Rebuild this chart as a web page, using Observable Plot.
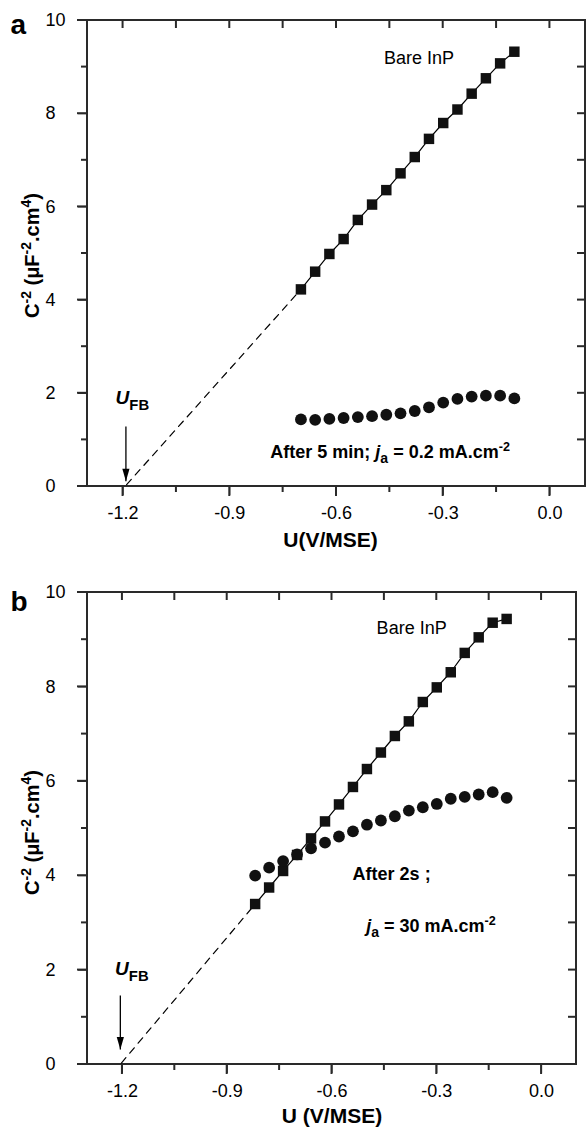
<!DOCTYPE html>
<html>
<head>
<meta charset="utf-8">
<script src="https://cdn.jsdelivr.net/npm/d3@7"></script>
<script src="https://cdn.jsdelivr.net/npm/@observablehq/plot@0.6"></script>
<style>
  html, body { margin: 0; padding: 0; background: #fff; }
  #chart svg { display: block; }
</style>
</head>
<body>
<div id="chart"></div>
<script>
// ---------- data ----------
const uA = [-0.70, -0.66, -0.62, -0.58, -0.54, -0.50, -0.46, -0.42, -0.38, -0.34, -0.30, -0.26, -0.22, -0.18, -0.14, -0.10];
const bareA = [4.23, 4.61, 4.99, 5.31, 5.72, 6.05, 6.36, 6.72, 7.07, 7.46, 7.80, 8.09, 8.43, 8.76, 9.08, 9.33];
const afterA = [1.44, 1.43, 1.45, 1.47, 1.49, 1.51, 1.54, 1.57, 1.62, 1.70, 1.80, 1.88, 1.93, 1.95, 1.95, 1.89];
const fitAX = [-1.19, -0.70];
const fitAY = [0.04, 4.23];

const uB = [-0.82, -0.78, -0.74, -0.70, -0.66, -0.62, -0.58, -0.54, -0.50, -0.46, -0.42, -0.38, -0.34, -0.30, -0.26, -0.22, -0.18, -0.14, -0.10];
const bareB = [3.40, 3.75, 4.10, 4.44, 4.79, 5.15, 5.51, 5.88, 6.26, 6.61, 6.96, 7.27, 7.68, 7.99, 8.31, 8.72, 9.05, 9.36, 9.44];
const afterB = [4.00, 4.17, 4.31, 4.45, 4.58, 4.70, 4.83, 4.94, 5.08, 5.17, 5.26, 5.38, 5.45, 5.52, 5.63, 5.67, 5.72, 5.77, 5.65];
const fitBX = [-1.203, -0.82];
const fitBY = [0.03, 3.40];

const xDomain = [-1.3, 0.1];
const yDomain = [0, 10];
const xMajor = [-1.2, -0.9, -0.6, -0.3, 0.0];
const xMinor = [-1.05, -0.75, -0.45, -0.15];
const yMajor = [0, 2, 4, 6, 8, 10];
const yMinor = [1, 3, 5, 7, 9];

const yTitle = "C^{-2} (μF^{-2}.cm^{4})";
const xTitleA = "U(V/MSE)";
const xTitleB = "U (V/MSE)";
const labelBare = "Bare InP";
const labelFB = "*U*_{FB}";
const labelAfterA = "After 5 min; *j*_{a} = 0.2 mA.cm^{-2}";
const labelAfterB1 = "After 2s ;";
const labelAfterB2 = "*j*_{a} = 30 mA.cm^{-2}";

// ---------- helpers ----------
const FONT = "'Liberation Sans', Arial, Helvetica, sans-serif";
const pts = (xs, ys) => xs.map((x, i) => ({x, y: ys[i]}));
const noText = () => "";
const arrowHead = {
  draw(ctx) { ctx.moveTo(0, 0); ctx.lineTo(-3.6, -12.5); ctx.lineTo(3.6, -12.5); ctx.closePath(); }
};

function richify(svg) {
  d3.select(svg).selectAll("text").each(function () {
    const t = this.textContent;
    if (!/[\^_*]/.test(t)) return;
    const base = parseFloat(getComputedStyle(this).fontSize) || 18;
    const parts = t.split(/(\^\{[^}]*\}|_\{[^}]*\}|\*[^*]*\*)/).filter(s => s.length);
    this.textContent = "";
    let cur = 0;
    for (const p of parts) {
      let txt = p, off = 0, size = null, italic = false;
      if (p.startsWith("^{")) { txt = p.slice(2, -1); off = -0.40 * base; size = 0.70 * base; }
      else if (p.startsWith("_{")) { txt = p.slice(2, -1); off = 0.28 * base; size = 0.78 * base; }
      else if (p.startsWith("*")) { txt = p.slice(1, -1); italic = true; }
      const ts = document.createElementNS("http://www.w3.org/2000/svg", "tspan");
      if (off - cur !== 0) ts.setAttribute("dy", (off - cur).toFixed(2));
      cur = off;
      if (size) ts.setAttribute("font-size", size.toFixed(2));
      if (italic) ts.setAttribute("font-style", "italic");
      ts.textContent = txt;
      this.appendChild(ts);
    }
  });
}

function makePanel(cfg) {
  const bare = pts(cfg.u, cfg.bare);
  const after = pts(cfg.u, cfg.after);
  const fit = pts(cfg.fitX, cfg.fitY);
  const arrow = [{x: cfg.arrowX, y1: cfg.arrowY[0], y2: cfg.arrowY[1]}];
  const plotW = 586 - 87 - cfg.marginRight;
  const plotH = cfg.height - cfg.marginTop - cfg.marginBottom;
  const kx = plotW / (xDomain[1] - xDomain[0]);
  const ky = plotH / (yDomain[1] - yDomain[0]);
  const [x0, x1] = xDomain, [y0, y1] = yDomain;
  const segs = [];
  segs.push({x1: x0, y1: y0, x2: x1, y2: y0}, {x1: x0, y1: y1, x2: x1, y2: y1},
            {x1: x0, y1: y0, x2: x0, y2: y1}, {x1: x1, y1: y0, x2: x1, y2: y1});
  for (const t of xMajor) segs.push({x1: t, y1: y0, x2: t, y2: y0 - 9 / ky});
  for (const t of xMinor) segs.push({x1: t, y1: y0, x2: t, y2: y0 - 5 / ky});
  for (const t of [...xMajor, ...xMinor]) segs.push({x1: t, y1: y1, x2: t, y2: y1 - 7 / ky});
  for (const t of yMajor) segs.push({x1: x0, y1: t, x2: x0 - 9 / kx, y2: t});
  for (const t of yMinor) segs.push({x1: x0, y1: t, x2: x0 - 5 / kx, y2: t});
  for (const t of [...yMajor, ...yMinor]) segs.push({x1: x1, y1: t, x2: x1 - 7 / kx, y2: t});

  return Plot.plot({
    width: 586,
    height: cfg.height,
    marginTop: cfg.marginTop,
    marginBottom: cfg.marginBottom,
    marginLeft: 87,
    marginRight: cfg.marginRight,
    style: {fontFamily: FONT, fontSize: "18px", color: "#000", background: "#fff", overflow: "visible"},
    x: {domain: xDomain, label: null},
    y: {domain: yDomain, label: null},
    marks: [
      Plot.axisX(xMajor, {anchor: "bottom", tickSize: 9, tickPadding: 11, tickFormat: d => d.toFixed(1), label: null}),
      Plot.axisY(yMajor, {anchor: "left", tickSize: 9, tickPadding: 33, textAnchor: "start", tickFormat: d => String(d), label: null}),
      Plot.link(segs, {x1: "x1", y1: "y1", x2: "x2", y2: "y2", stroke: "#2a2a2a", strokeWidth: 2, strokeLinecap: "square", dx: -0.5, dy: -0.5}),
      Plot.line(fit, {x: "x", y: "y", stroke: "#000", strokeWidth: 1.2, strokeDasharray: "7,6"}),
      Plot.line(bare, {x: "x", y: "y", stroke: "#000", strokeWidth: 1.2}),
      Plot.dot(bare, {x: "x", y: "y", symbol: "square", r: 5.9, fill: "#111"}),
      Plot.dot(after, {x: "x", y: "y", r: 5.9, fill: "#111"}),
      Plot.link(arrow, {x1: "x", y1: "y1", x2: "x", y2: "y2", stroke: "#000", strokeWidth: 1.3}),
      Plot.dot(arrow, {x: "x", y: "y2", symbol: arrowHead, r: 1, fill: "#000"}),
      ...cfg.notes.map(n => Plot.text([n.t], {
        x: () => n.x, y: () => n.y, text: d => d, textAnchor: n.anchor, lineAnchor: "bottom",
        fontSize: n.size, fontWeight: n.weight
      })),
      Plot.text([cfg.letter], {frameAnchor: "top-left", dx: -77, dy: cfg.letterDy, textAnchor: "start", lineAnchor: "bottom", fontSize: 28, fontWeight: "bold"}),
      Plot.text([yTitle], {frameAnchor: "left", rotate: -90, dx: -48.5, dy: cfg.yTitleDy, textAnchor: "middle", lineAnchor: "bottom", fontSize: 20, fontWeight: "bold"}),
      Plot.text([cfg.xTitle], {frameAnchor: "bottom", dx: cfg.xTitleDx, dy: cfg.xTitleDy, textAnchor: "middle", lineAnchor: "bottom", fontSize: 21, fontWeight: "bold"})
    ]
  });
}

const root = document.getElementById("chart");

const svgA = makePanel({
  u: uA, bare: bareA, after: afterA, fitX: fitAX, fitY: fitAY,
  arrowX: -1.192, arrowY: [1.29, 0.11],
  height: 560, marginTop: 20, marginBottom: 74, marginRight: 1,
  letter: "a", letterDy: 13, yTitleDy: 2, xTitle: xTitleA, xTitleDx: -6, xTitleDy: 60,
  notes: [
    {t: labelBare, x: -0.368, y: 9.06, anchor: "middle", size: 18, weight: "normal"},
    {t: labelAfterA, x: -0.786, y: 0.61, anchor: "start", size: 18, weight: "bold"},
    {t: labelFB, x: -1.221, y: 1.76, anchor: "start", size: 19, weight: "bold"}
  ]
});
root.appendChild(svgA);
richify(svgA);

const svgB = makePanel({
  u: uB, bare: bareB, after: afterB, fitX: fitBX, fitY: fitBY,
  arrowX: -1.206, arrowY: [1.46, 0.32],
  height: 571, marginTop: 32, marginBottom: 67, marginRight: 10,
  letter: "b", letterDy: 18, yTitleDy: 4, xTitle: xTitleB, xTitleDx: 0, xTitleDy: 58,
  notes: [
    {t: labelBare, x: -0.372, y: 9.13, anchor: "middle", size: 18, weight: "normal"},
    {t: labelAfterB1, x: -0.541, y: 3.90, anchor: "start", size: 18, weight: "bold"},
    {t: labelAfterB2, x: -0.502, y: 2.80, anchor: "start", size: 18, weight: "bold"},
    {t: labelFB, x: -1.221, y: 1.89, anchor: "start", size: 19, weight: "bold"}
  ]
});
root.appendChild(svgB);
richify(svgB);
</script>
</body>
</html>
